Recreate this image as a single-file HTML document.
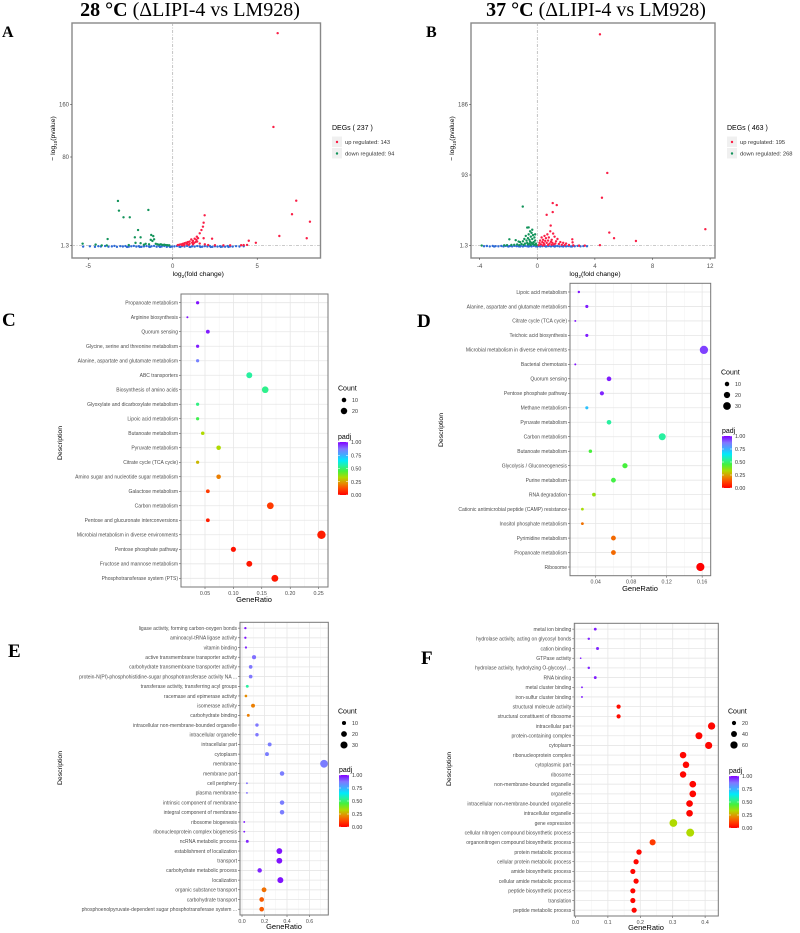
<!DOCTYPE html>
<html><head><meta charset="utf-8"><style>
html,body{margin:0;padding:0;background:#fff;}
svg{display:block;}
</style></head><body>
<svg id="fig" width="800" height="933" xmlns="http://www.w3.org/2000/svg" font-family="'Liberation Sans', sans-serif">
<rect x="0" y="0" width="800" height="933" fill="#fff"/>
<text x="190" y="16" text-anchor="middle" font-family="'Liberation Serif', serif" font-size="20" fill="#000"><tspan font-weight="bold">28 °C</tspan> (ΔLIPI-4 vs LM928)</text>
<text x="596" y="16" text-anchor="middle" font-family="'Liberation Serif', serif" font-size="20" fill="#000"><tspan font-weight="bold">37 °C</tspan> (ΔLIPI-4 vs LM928)</text>
<text x="2" y="37" font-family="'Liberation Serif', serif" font-weight="bold" font-size="16">A</text>
<text x="426" y="37" font-family="'Liberation Serif', serif" font-weight="bold" font-size="16">B</text>
<text x="2" y="326" font-family="'Liberation Serif', serif" font-weight="bold" font-size="19">C</text>
<text x="417" y="327" font-family="'Liberation Serif', serif" font-weight="bold" font-size="19">D</text>
<text x="8" y="657" font-family="'Liberation Serif', serif" font-weight="bold" font-size="19">E</text>
<text x="421" y="664" font-family="'Liberation Serif', serif" font-weight="bold" font-size="19">F</text>
<g id="pa"></g>
<g id="pb"></g>
<g id="pc"></g>
<g id="pd"></g>
<g id="pe"></g>
<g id="pf"></g>
</svg>
<script>
// ---------- Volcano data ----------
const aUpX=[6.21,5.96,7.31,7.06,8.12,6.31,7.93,1.89,1.83,1.79,1.7,1.6,1.43,1.83,2.33,4.5,4.92,4.4,4.2,4.05,3.4,1.5,1.4,1.3,1.2,1.1,1.0,0.9,0.8,0.7,0.6,0.5,0.4,0.3,1.15,1.25,1.35,1.0,0.85,0.7,0.55,1.45,1.6,1.9,2.1,1.2,0.95,0.65,2.5,3.0];
const aUpY=[268,125.6,41.2,29.2,22.6,9.9,7.9,28.3,21.7,18.2,15.2,12.3,9.3,7.9,7.5,5.7,3.9,2.0,1.8,1.7,1.6,8,6.5,7.5,5.5,6.8,5,4.5,4,3.5,3,2.5,2.2,1.8,4,3.5,4.5,3,2.8,2.2,1.8,5,3.2,2.5,1.9,2.5,2,1.6,1.7,1.6];
const aDownX=[-3.24,-3.18,-2.91,-2.54,-1.44,-2.05,-2.24,-1.9,-1.27,-1.15,-1.1,-1.2,-1.3,-3.85,-5.33,-4.56,-4.2,-3.9,-2.2,-1.9,-1.6,-1.0,-0.9,-0.8,-0.7,-0.6,-0.5,-0.4,-0.3,-1.4,-1.7,-2.6,-0.2];
const aDownY=[41,32.4,26.5,26.5,33,15.2,8.7,8.7,10.8,9.8,7,5.5,6.5,7.2,3.1,2.3,1.5,1.5,3.8,3.5,3,3,2.5,2.2,2.5,2,2.2,1.9,1.7,2.5,2.2,1.8,1.6];
const aNsX=[-5.3,-4.9,-4.6,-4.4,-4.25,-4.0,-3.8,-3.6,-3.45,-3.3,-3.1,-2.95,-2.8,-2.6,-2.45,-2.3,-2.15,-2.0,-1.85,-1.7,-1.55,-1.4,-1.25,-1.1,-0.95,-0.8,-0.65,-0.5,-0.35,-0.2,-0.05,0.1,0.25,0.4,0.55,0.7,0.85,1.0,1.15,1.3,1.45,1.6,1.75,1.9,2.05,2.2,2.35,2.5,2.65,2.8,2.95,3.1,3.25,3.4,3.55,3.75,3.95,4.2,-2.7,-1.95,-1.35,-0.75,-0.15,0.45,1.05,1.65,2.25,2.85,3.3];
const aNsY=[0.5,0.8,0.3,0.9,0.6,1.0,0.4,0.7,1.1,0.3,0.9,0.6,1.0,0.4,0.8,1.1,0.5,0.9,0.3,0.7,1.0,0.5,0.8,1.1,0.4,0.9,0.6,1.0,0.3,0.8,0.5,0.7,1.0,0.4,0.9,0.6,1.1,0.3,0.8,0.5,1.0,0.7,0.4,0.9,0.6,1.0,0.3,0.8,0.5,0.9,0.6,0.4,1.0,0.7,0.5,0.9,0.6,0.8,0.2,0.2,0.2,0.2,0.2,0.2,0.2,0.2,0.2,0.2,0.2];
const aYTicks=[1.3,80,160];
const aXTicks=[-5,0,5];

const bUpX=[4.35,4.86,4.49,1.07,1.35,1.07,0.65,0.93,5.0,5.33,6.85,11.67,2.43,2.45,4.35,3.3,2.9,0.9,1.1,0.7,0.5,0.3,0.6,0.8,1.2,1.4,0.4,0.2,0.55,0.75,1.0,1.3,1.6,1.8,2.0,0.35,0.15,0.45,0.65,0.85,1.05,1.25,1.5,1.7,0.25,0.5,0.75,1.0,1.9,2.2,2.5,0.1,0.4,1.15,0.95];
const bUpY=[278,95.7,63.5,56.6,54,44.9,41.3,27.4,18.3,11,7.4,22.7,9.6,5.6,2,1.4,1.4,20,17,16,14,12,11,12,13,10,9,8,7.5,8,9,7,6,5,4,6,5,4.5,5,4,5,4,3.5,2.5,3,2.5,2.2,2.5,2,2.2,1.8,2,1.8,3,6.5];
const bDownX=[-1.01,-0.7,-0.6,-1.94,-3.86,-0.5,-0.4,-0.6,-0.8,-0.3,-0.45,-0.2,-0.65,-0.9,-0.35,-0.55,-0.15,-0.75,-1.0,-1.2,-0.25,-0.5,-0.4,-0.7,-0.1,-0.3,-0.55,-0.85,-1.1,-1.4,-1.6,-1.8,-2.1,-2.3,-0.2,-0.45,-0.65,-0.95,-1.25,-0.05,-1.5,-1.3,-0.15,-0.35];
const bDownY=[52,24.8,25,9.6,1.5,20,18,16,14,15,13,12,11,10,10,9,8,8,7,6,6,6.5,5,5,4,3.5,3.8,4,3.5,3,2.5,2.2,2,1.8,2.5,2.2,2.8,2.3,2,2,8.5,6.7,16,22];
const bNsX=[-3.7,-3.5,-3.3,-3.1,-2.9,-2.7,-2.5,-2.35,-2.2,-2.05,-1.9,-1.75,-1.6,-1.45,-1.3,-1.15,-1.0,-0.85,-0.7,-0.55,-0.4,-0.25,-0.1,0.05,0.2,0.35,0.5,0.65,0.8,0.95,1.1,1.25,1.4,1.55,1.7,1.85,2.0,2.15,2.3,2.45,2.6,2.8,3.0,3.2,3.45,-3.0,-2.0,-1.2,-0.6,0.0,0.6,1.2,1.8,2.4];
const bNsY=[0.6,0.9,0.4,1.0,0.7,0.5,0.9,0.3,1.0,0.6,0.8,0.4,1.1,0.7,0.5,0.9,0.3,1.0,0.6,0.8,0.4,1.1,0.5,0.9,0.3,0.7,1.0,0.5,0.8,0.4,1.0,0.6,0.9,0.3,0.7,1.0,0.5,0.8,0.4,0.9,0.6,1.0,0.5,0.8,0.6,0.2,0.2,0.2,0.2,0.2,0.2,0.2,0.2,0.2];
const bYTicks=[1.3,93,186];
const bXTicks=[-4,0,4,8,12];

// ---------- Dot-plot data ----------
const cLabels=["Propanoate metabolism","Arginine biosynthesis","Quorum sensing","Glycine, serine and threonine metabolism","Alanine, aspartate and glutamate metabolism","ABC transporters","Biosynthesis of amino acids","Glyoxylate and dicarboxylate metabolism","Lipoic acid metabolism","Butanoate metabolism","Pyruvate metabolism","Citrate cycle (TCA cycle)","Amino sugar and nucleotide sugar metabolism","Galactose metabolism","Carbon metabolism","Pentose and glucuronate interconversions","Microbial metabolism in diverse environments","Pentose phosphate pathway","Fructose and mannose metabolism","Phosphotransferase system (PTS)"];
const cRatio=[0.037,0.019,0.055,0.037,0.037,0.128,0.156,0.037,0.037,0.046,0.074,0.037,0.074,0.055,0.165,0.055,0.255,0.10,0.128,0.173];
const cCount=[5,2,7,5,5,17,21,5,5,6,10,5,10,7,22,7,34,13,17,23];
const cPadj=[0.98,0.98,0.97,0.97,0.85,0.55,0.53,0.52,0.47,0.33,0.33,0.28,0.2,0.1,0.1,0.05,0.05,0.03,0.04,0.04];
const cTicks=[0.05,0.10,0.15,0.20,0.25];
const cTickLabels=["0.05","0.10","0.15","0.20","0.25"];
const cLegendCounts=[10,20];

const dLabels=["Lipoic acid metabolism","Alanine, aspartate and glutamate metabolism","Citrate cycle (TCA cycle)","Teichoic acid biosynthesis","Microbial metabolism in diverse environments","Bacterial chemotaxis","Quorum sensing","Pentose phosphate pathway","Methane metabolism","Pyruvate metabolism","Carbon metabolism","Butanoate metabolism","Glycolysis / Gluconeogenesis","Purine metabolism","RNA degradation","Cationic antimicrobial peptide (CAMP) resistance","Inositol phosphate metabolism","Pyrimidine metabolism","Propanoate metabolism","Ribosome"];
const dRatio=[0.021,0.030,0.017,0.030,0.162,0.017,0.055,0.047,0.030,0.055,0.115,0.034,0.073,0.060,0.038,0.025,0.025,0.060,0.060,0.158];
const dCount=[3,5,2,5,35,2,11,9,5,11,25,6,14,12,7,4,4,12,12,34];
const dPadj=[0.98,0.97,0.98,0.97,0.93,0.98,0.97,0.96,0.72,0.55,0.55,0.45,0.45,0.46,0.36,0.34,0.18,0.17,0.17,0.0];
const dTicks=[0.04,0.08,0.12,0.16];
const dTickLabels=["0.04","0.08","0.12","0.16"];
const dLegendCounts=[10,20,30];

const eLabels=["ligase activity, forming carbon-oxygen bonds","aminoacyl-tRNA ligase activity","vitamin binding","active transmembrane transporter activity","carbohydrate transmembrane transporter activity","protein-N(PI)-phosphohistidine-sugar phosphotransferase activity NA ...","transferase activity, transferring acyl groups","racemase and epimerase activity","isomerase activity","carbohydrate binding","intracellular non-membrane-bounded organelle","intracellular organelle","intracellular part","cytoplasm","membrane","membrane part","cell periphery","plasma membrane","intrinsic component of membrane","integral component of membrane","ribosome biogenesis","ribonucleoprotein complex biogenesis","ncRNA metabolic process","establishment of localization","transport","carbohydrate metabolic process","localization","organic substance transport","carbohydrate transport","phosphoenolpyruvate-dependent sugar phosphotransferase system ..."];
const eRatio=[0.03,0.03,0.035,0.107,0.077,0.077,0.047,0.035,0.098,0.056,0.133,0.133,0.246,0.222,0.729,0.356,0.044,0.044,0.356,0.356,0.02,0.02,0.047,0.332,0.332,0.157,0.341,0.196,0.175,0.175];
const eCount=[3,3,3,10,8,8,5,4,9,5,7,7,9,9,36,12,2,2,12,12,2,2,5,20,20,12,21,14,13,13];
const ePadj=[0.98,0.98,0.96,0.88,0.87,0.87,0.55,0.22,0.2,0.2,0.87,0.87,0.86,0.86,0.86,0.86,0.88,0.88,0.86,0.86,0.97,0.97,0.96,0.98,0.98,0.96,0.98,0.18,0.15,0.15];
const eTicks=[0.0,0.2,0.4,0.6];
const eTickLabels=["0.0","0.2","0.4","0.6"];
const eLegendCounts=[10,20,30];

const fLabels=["metal ion binding","hydrolase activity, acting on glycosyl bonds","cation binding","GTPase activity","hydrolase activity, hydrolyzing O-glycosyl ...","RNA binding","metal cluster binding","iron-sulfur cluster binding","structural molecule activity","structural constituent of ribosome","intracellular part","protein-containing complex","cytoplasm","ribonucleoprotein complex","cytoplasmic part","ribosome","non-membrane-bounded organelle","organelle","intracellular non-membrane-bounded organelle","intracellular organelle","gene expression","cellular nitrogen compound biosynthetic process","organonitrogen compound biosynthetic process","protein metabolic process","cellular protein metabolic process","amide biosynthetic process","cellular amide metabolic process","peptide biosynthetic process","translation","peptide metabolic process"];
const fRatio=[0.061,0.041,0.068,0.016,0.041,0.061,0.02,0.02,0.133,0.133,0.42,0.381,0.411,0.332,0.341,0.332,0.362,0.362,0.352,0.352,0.302,0.354,0.238,0.196,0.187,0.177,0.187,0.177,0.177,0.181];
const fCount=[9,7,10,3,7,9,4,4,20,20,60,55,58,48,48,47,51,51,50,50,68,72,42,33,31,30,31,30,30,31];
const fPadj=[0.97,0.96,0.96,0.97,0.96,0.97,0.97,0.97,0.02,0.02,0.01,0.01,0.01,0.01,0.01,0.01,0.01,0.01,0.01,0.01,0.33,0.33,0.1,0.01,0.01,0.01,0.01,0.01,0.01,0.01];
const fTicks=[0.0,0.1,0.2,0.3,0.4];
const fTickLabels=["0.0","0.1","0.2","0.3","0.4"];
const fLegendCounts=[20,40,60];

// ---------- helpers ----------
const NS='http://www.w3.org/2000/svg';
function el(tag,parent,attrs,txt){const e=document.createElementNS(NS,tag);for(const k in attrs)e.setAttribute(k,attrs[k]);if(txt!==undefined)e.textContent=txt;parent.appendChild(e);return e;}
const stops=[[0,[255,0,0]],[0.12,[255,70,0]],[0.22,[230,140,0]],[0.33,[176,218,0]],[0.45,[70,240,60]],[0.55,[40,240,160]],[0.65,[0,235,250]],[0.75,[60,175,255]],[0.87,[128,120,255]],[1,[128,0,255]]];
function padjColor(p){for(let i=1;i<stops.length;i++){if(p<=stops[i][0]){const a=stops[i-1],b=stops[i];const t=(p-a[0])/(b[0]-a[0]);const c=a[1].map((v,j)=>Math.round(v+(b[1][j]-v)*t));return 'rgb('+c.join(',')+')';}}return 'rgb(128,0,255)';}

// ---------- volcano ----------
function volcano(g,cfg,upX,upY,downX,downY,nsX,nsY,yTicks,xTicks,total,nUp,nDown){
  const B=cfg.box;
  const xs=v=>cfg.x0+v*cfg.xu;
  const ys=v=>{const t=yTicks,p=cfg.yPx;let i=0;if(v<=t[0])i=0;else if(v>=t[t.length-2])i=t.length-2;else{for(i=0;i<t.length-2;i++)if(v<t[i+1])break;}return p[i]+(v-t[i])*(p[i+1]-p[i])/(t[i+1]-t[i]);};
  let r=el('rect',g,{x:B[0],y:B[1],width:B[2]-B[0],height:B[3]-B[1],fill:'#fff',stroke:'#888','stroke-width':1.4});
  
  
  let l=el('line',g,{x1:xs(0),x2:xs(0),y1:B[1],y2:B[3],stroke:'#aaa','stroke-width':0.7,'stroke-dasharray':'3,1.5,1,1.5'});
  
  
  l=el('line',g,{x1:B[0],x2:B[2],y1:ys(1.3),y2:ys(1.3),stroke:'#aaa','stroke-width':0.7,'stroke-dasharray':'3,1.5,1,1.5'});
  
  
  for(let i=0;i<nsX.length;i++){const c=el('circle',g,{cx:xs(nsX[i]),cy:ys(nsY[i]),r:1.2,fill:'#2e6bd6'});
    
    }
  for(let i=0;i<downX.length;i++){const c=el('circle',g,{cx:xs(downX[i]),cy:ys(downY[i]),r:1.2,fill:'#12935a'});
    
    }
  for(let i=0;i<upX.length;i++){const c=el('circle',g,{cx:xs(upX[i]),cy:ys(upY[i]),r:1.2,fill:'#fa1e46'});
    
    }
  xTicks.forEach(v=>{const x=xs(v);el('line',g,{x1:x,x2:x,y1:B[3],y2:B[3]+2,stroke:'#333','stroke-width':0.5});
    const t=el('text',g,{x:x,y:B[3]+10,'font-size':6,'text-anchor':'middle',fill:'#4d4d4d'},String(v));
    
    });
  yTicks.forEach(v=>{const y=ys(v);el('line',g,{x1:B[0]-2,x2:B[0],y1:y,y2:y,stroke:'#333','stroke-width':0.5});
    const t=el('text',g,{x:B[0]-3,y:y+2,'font-size':6,'text-anchor':'end',fill:'#4d4d4d'},String(v));
    
    });
  let t=el('text',g,{x:(B[0]+B[2])/2+2,y:B[3]+18,'font-size':6.8,'text-anchor':'middle',fill:'#000'});
  
  
  t.innerHTML='log<tspan font-size="4.5" dy="2">2</tspan><tspan dy="-2">(fold change)</tspan>';
  const ay=(B[1]+B[3])/2-2;
  t=el('text',g,{x:0,y:0,'font-size':6.8,'text-anchor':'middle',fill:'#000',transform:'translate('+(B[0]-17)+','+ay+') rotate(-90)'});
  
  
  t.innerHTML='− log<tspan font-size="4.5" dy="2">10</tspan><tspan dy="-2">(pvalue)</tspan>';
  const L=cfg.leg;
  t=el('text',g,{x:L[0],y:L[1],'font-size':7,fill:'#000'},'DEGs ( '+total+' )');
  
  
  [[nUp,'up regulated: ','#fa1e46','legend-entry-up'],[nDown,'down regulated: ','#12935a','legend-entry-down']].forEach((e,i)=>{
    const y=L[1]+12+i*11.5;
    el('rect',g,{x:L[0],y:y-5.5,width:10,height:10.5,fill:'#f0f0f0'});
    el('circle',g,{cx:L[0]+5,cy:y,r:1.2,fill:e[2]});
    const tt=el('text',g,{x:L[0]+13,y:y+2,'font-size':5.8,fill:'#333'},e[1]+e[0]);
    
    });
}

volcano(document.getElementById('pa'),{box:[72,23,320.5,258],x0:172.7,xu:16.9,yPx:[245.7,157,104.3],leg:[332,130]},aUpX,aUpY,aDownX,aDownY,aNsX,aNsY,aYTicks,aXTicks,237,143,94);
volcano(document.getElementById('pb'),{box:[471,23,715,258],x0:537.3,xu:14.4,yPx:[245.7,175,104.3],leg:[727,130]},bUpX,bUpY,bDownX,bDownY,bNsX,bNsY,bYTicks,bXTicks,463,195,268);

// ---------- dot plot ----------
function dotplot(g,cfg,labels,ratio,count,padj,ticks,tickLabels,legendCounts){
  const B=cfg.box;const n=labels.length;
  const xs=v=>cfg.xRef+(v-cfg.vRef)*cfg.xu;
  const sp=(B[3]-B[1])/(n-1+1.2);
  const ys=i=>B[1]+(0.6+i)*sp;
  const rs=c=>cfg.k*Math.sqrt(c);
  let r=el('rect',g,{x:B[0],y:B[1],width:B[2]-B[0],height:B[3]-B[1],fill:'#fff'});
  
  
  for(let i=0;i<ticks.length;i++){
    const x=xs(ticks[i]);
    el('line',g,{x1:x,x2:x,y1:B[1],y2:B[3],stroke:'#e6e6e6','stroke-width':0.8});
    [-0.5,0.5].forEach(h=>{const step=ticks[1]-ticks[0];const xm=xs(ticks[i]+h*step);if(xm>B[0]&&xm<B[2]&&(h<0?i===0:true))el('line',g,{x1:xm,x2:xm,y1:B[1],y2:B[3],stroke:'#f2f2f2','stroke-width':0.5});});
    el('line',g,{x1:x,x2:x,y1:B[3],y2:B[3]+2,stroke:'#333','stroke-width':0.5});
    const t=el('text',g,{x:x,y:B[3]+8,'font-size':5.3,'text-anchor':'middle',fill:'#4d4d4d'},tickLabels[i]);
    
    
  }
  for(let i=0;i<n;i++){
    const y=ys(i);
    el('line',g,{x1:B[0],x2:B[2],y1:y,y2:y,stroke:'#e6e6e6','stroke-width':0.8});
    el('line',g,{x1:B[0]-2,x2:B[0],y1:y,y2:y,stroke:'#333','stroke-width':0.5});
    const t=el('text',g,{x:B[0]-3,y:y+1.8,'font-size':cfg.fs,'text-anchor':'end',fill:'#4d4d4d'},labels[i]);
    
    
  }
  for(let i=0;i<n;i++){
    const c=el('circle',g,{cx:xs(ratio[i]),cy:ys(i),r:rs(count[i]),fill:padjColor(padj[i])});
    
    
  }
  r=el('rect',g,{x:B[0],y:B[1],width:B[2]-B[0],height:B[3]-B[1],fill:'none',stroke:'#777','stroke-width':1});
  
  
  let t=el('text',g,{x:cfg.gr[0],y:cfg.gr[1],'font-size':7.5,'text-anchor':'middle',fill:'#000'},'GeneRatio');
  
  
  t=el('text',g,{x:0,y:0,'font-size':6.8,'text-anchor':'middle',fill:'#000',transform:'translate('+cfg.desc[0]+','+cfg.desc[1]+') rotate(-90)'},'Description');
  
  
  const L=cfg.leg;
  t=el('text',g,{x:L[0],y:L[1]+2.5,'font-size':7,fill:'#000'},'Count');
  
  
  legendCounts.forEach((c,i)=>{const y=L[1]+12+i*11;
    const cc=el('circle',g,{cx:L[0]+6,cy:y,r:rs(c),fill:'#000'});
    
    
    const tt=el('text',g,{x:L[0]+14,y:y+2,'font-size':5.3,fill:'#333'},String(c));
    
    });
  const P=cfg.pleg;
  t=el('text',g,{x:P[0],y:P[1]-3,'font-size':7,fill:'#000'},'padj');
  
  
  const gid='grad'+g.id;
  const defs=el('defs',g,{});const lg=el('linearGradient',defs,{id:gid,x1:0,y1:1,x2:0,y2:0});
  stops.forEach(s=>el('stop',lg,{offset:s[0],'stop-color':'rgb('+s[1].join(',')+')'}));
  const cb=el('rect',g,{x:P[0],y:P[1],width:10,height:P[2]-P[1],fill:'url(#'+gid+')'});
  
  
  ['1.00','0.75','0.50','0.25','0.00'].forEach((s,i)=>{const y=P[1]+i*(P[2]-P[1])/4;
    el('line',g,{x1:P[0],x2:P[0]+2,y1:y,y2:y,stroke:'#fff','stroke-width':0.5});
    el('line',g,{x1:P[0]+8,x2:P[0]+10,y1:y,y2:y,stroke:'#fff','stroke-width':0.5});
    const tt=el('text',g,{x:P[0]+13,y:y+2,'font-size':5.3,fill:'#333'},s);
    
    });
}

dotplot(document.getElementById('pc'),{box:[181,294,328,587],xRef:205,vRef:0.05,xu:568,k:0.72,fs:5,gr:[254,602],desc:[62,443],leg:[338,388],pleg:[338,442,495]},cLabels,cRatio,cCount,cPadj,cTicks,cTickLabels,cLegendCounts);
dotplot(document.getElementById('pd'),{box:[570,283.3,710.7,575.7],xRef:595.7,vRef:0.04,xu:887,k:0.7,fs:5,gr:[640,591],desc:[443,430],leg:[721,372],pleg:[722,436,488]},dLabels,dRatio,dCount,dPadj,dTicks,dTickLabels,dLegendCounts);
dotplot(document.getElementById('pe'),{box:[240,622.3,328.3,915],xRef:242,vRef:0,xu:112.5,k:0.65,fs:5,gr:[284,929],desc:[62,768],leg:[338,711],pleg:[339,775,827]},eLabels,eRatio,eCount,ePadj,eTicks,eTickLabels,eLegendCounts);
dotplot(document.getElementById('pf'),{box:[574.3,623.3,718.3,916],xRef:575.5,vRef:0,xu:324,k:0.47,fs:5,gr:[646,930],desc:[451,769],leg:[728,711],pleg:[729,776,828]},fLabels,fRatio,fCount,fPadj,fTicks,fTickLabels,fLegendCounts);
</script>
</body></html>
